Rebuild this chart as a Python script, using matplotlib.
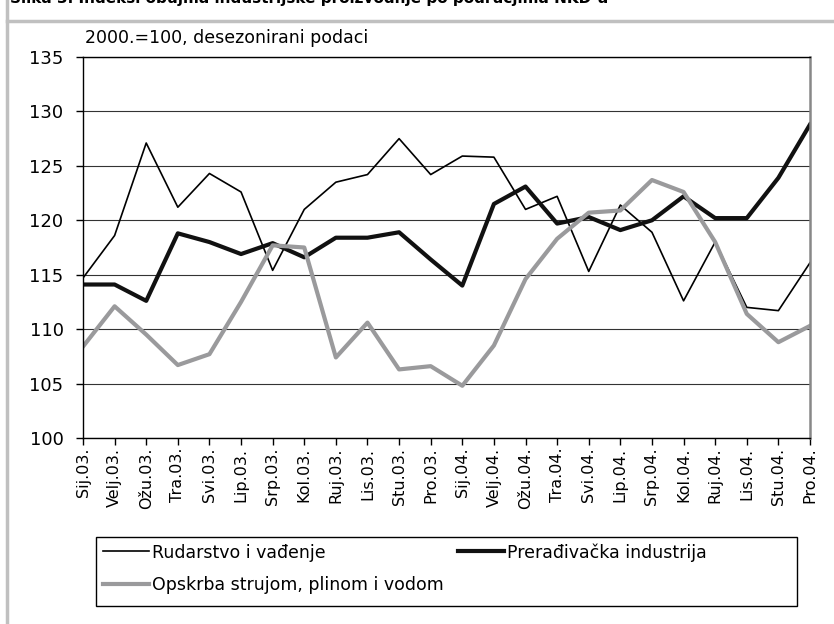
import numpy as np
import matplotlib.pyplot as plt
from matplotlib.lines import Line2D
from matplotlib.patches import Rectangle

months = ['Sij.03.', 'Velj.03.', 'Ožu.03.', 'Tra.03.', 'Svi.03.', 'Lip.03.',
          'Srp.03.', 'Kol.03.', 'Ruj.03.', 'Lis.03.', 'Stu.03.', 'Pro.03.',
          'Sij.04.', 'Velj.04.', 'Ožu.04.', 'Tra.04.', 'Svi.04.', 'Lip.04.',
          'Srp.04.', 'Kol.04.', 'Ruj.04.', 'Lis.04.', 'Stu.04.', 'Pro.04.']

rudarstvo = [114.7, 118.6, 127.1, 121.2, 124.3, 122.6, 115.4, 121.0, 123.5, 124.2, 127.5, 124.2,
             125.9, 125.8, 121.0, 122.2, 115.3, 121.4, 118.9, 112.6, 118.0, 112.0, 111.7, 116.1]
preradivacka = [114.1, 114.1, 112.6, 118.8, 118.0, 116.9, 117.9, 116.6, 118.4, 118.4, 118.9, 116.4,
                114.0, 121.5, 123.1, 119.7, 120.3, 119.1, 120.0, 122.2, 120.2, 120.2, 123.9, 128.8]
opskrba = [108.4, 112.1, 109.5, 106.7, 107.7, 112.5, 117.7, 117.5, 107.4, 110.6, 106.3, 106.6,
           104.8, 108.5, 114.6, 118.3, 120.7, 120.9, 123.7, 122.6, 118.0, 111.4, 108.8, 110.3]

labels = ['Rudarstvo i vađenje', 'Prerađivačka industrija', 'Opskrba strujom, plinom i vodom']

plt.rcParams['font.family'] = ['DejaVu Sans']

W, H = 834, 624
fig = plt.figure(figsize=(W / 100, H / 100), dpi=100)
ax = fig.add_axes([83 / W, 1 - 438 / H, 727 / W, 381 / H])

x = np.arange(len(months))
ax.plot(x, rudarstvo, color='black', lw=1.2, label=labels[0])
ax.plot(x, preradivacka, color='#111111', lw=3, label=labels[1])
ax.plot(x, opskrba, color='#9a9a9c', lw=3, label=labels[2])

ax.set_xlim(0, len(months) - 1)
ax.set_ylim(100, 135)
ax.set_yticks(np.arange(100, 136, 5))
ax.set_xticks(x)
ax.set_xticklabels(months, rotation=90, fontsize=11.5)
ax.yaxis.grid(True, color='#333333', lw=0.8)
ax.set_axisbelow(True)
ax.tick_params(axis='y', direction='out', length=5, width=1, pad=9, labelsize=13)
ax.tick_params(axis='x', direction='out', length=5, width=1, pad=2)
for s in ['left', 'bottom', 'top']:
    ax.spines[s].set_color('black')
    ax.spines[s].set_linewidth(1)
ax.spines['right'].set_color('#888888')
ax.spines['right'].set_linewidth(1.8)

fig.text(85 / W, 1 - 43 / H, '2000.=100, desezonirani podaci', fontsize=12.5,
         va='baseline', ha='left')

# title is cut off at the top of the original picture
fig.text(10 / W, 1 - 3 / H, 'Slika 3. Indeksi obujma industrijske proizvodnje po područjima NKD-a',
         fontsize=11, fontweight='bold', va='baseline', ha='left')

# grey frame around the figure
fig.add_artist(Line2D([6.5 / W, 6.5 / W], [0, 1], transform=fig.transFigure,
                      color='#c0c0c0', lw=2.5))
fig.add_artist(Line2D([6.5 / W, 1], [1 - 20.5 / H, 1 - 20.5 / H], transform=fig.transFigure,
                      color='#c0c0c0', lw=2.5))

# legend box drawn separately, entries placed row by row
fig.add_artist(Rectangle((96 / W, 1 - 606 / H), 701 / W, 69 / H, transform=fig.transFigure,
                         facecolor='white', edgecolor='black', lw=1, zorder=3))
leg_fs = 12.5
fs_px = leg_fs * 100 / 72
handles, lbls = ax.get_legend_handles_labels()
order = [0, 2, 1]
leg = fig.legend([handles[i] for i in order], [lbls[i] for i in order], ncol=2,
                 loc='upper left', bbox_to_anchor=(103 / W, 1 - 543 / H),
                 prop={'size': leg_fs}, handlelength=46 / fs_px,
                 handletextpad=0.17, frameon=False, borderaxespad=0, borderpad=0,
                 labelspacing=0.85, columnspacing=0.8)
leg.set_zorder(4)

fig.savefig('out.png', dpi=100)
